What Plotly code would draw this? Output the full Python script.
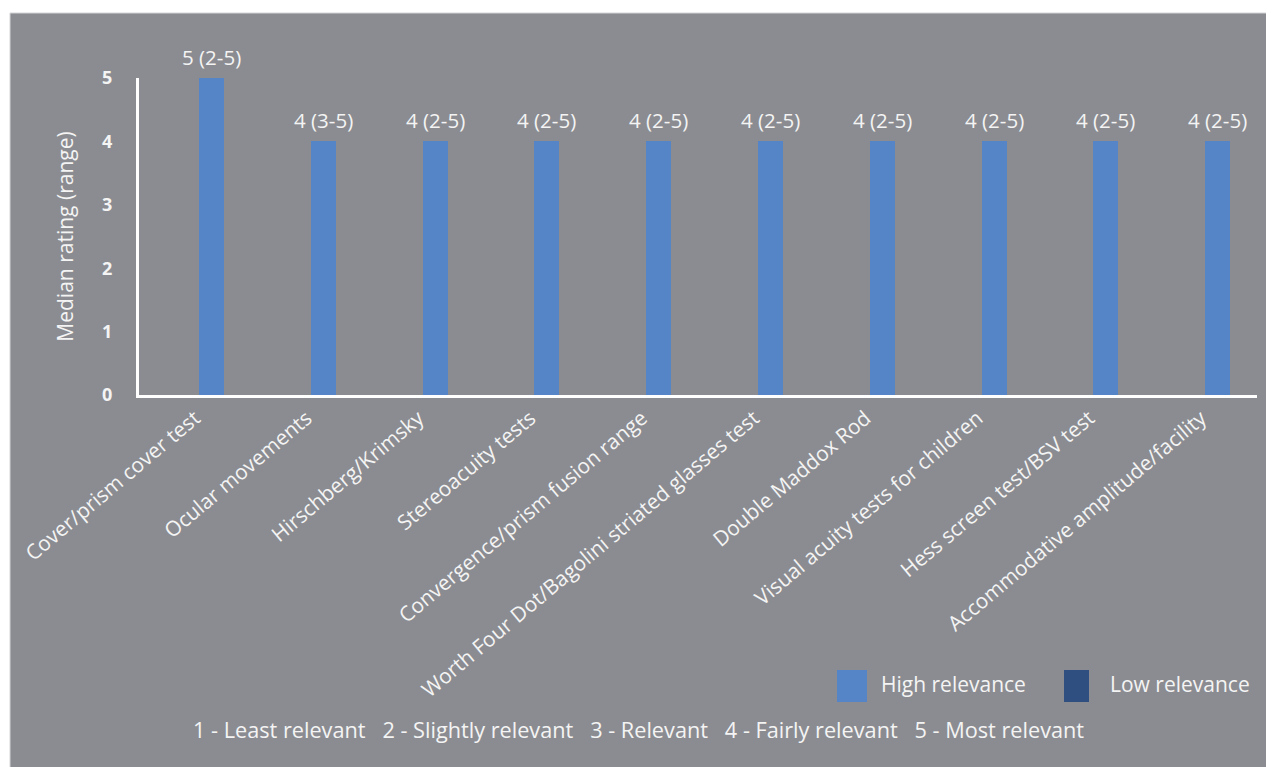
import plotly.graph_objects as go

categories = [
    "Cover/prism cover test",
    "Ocular movements",
    "Hirschberg/Krimsky",
    "Stereoacuity tests",
    "Convergence/prism fusion range",
    "Worth Four Dot/Bagolini striated glasses test",
    "Double Maddox Rod",
    "Visual acuity tests for children",
    "Hess screen test/BSV test",
    "Accommodative amplitude/facility",
]
median_rating = [5, 4, 4, 4, 4, 4, 4, 4, 4, 4]
range_labels = ["2-5", "3-5", "2-5", "2-5", "2-5", "2-5", "2-5", "2-5", "2-5", "2-5"]
y_ticks = [0, 1, 2, 3, 4, 5]
legend_names = ["High relevance", "Low relevance"]
scale_labels = ["1 - Least relevant", "2 - Slightly relevant", "3 - Relevant",
                "4 - Fairly relevant", "5 - Most relevant"]

HIGH = "#5585c6"
LOW = "#2f4f80"
BG = "#8b8c91"
TXT = "#f4f4f4"
FONT = "Open Sans"

OFF = 8  # page body margin
W, H = 1274 - OFF, 767 - OFF
PL, PR, PT, PB = 139, 1257, 78, 395  # plot area in page pixels
L, T = PL - OFF, PT - OFF
R, B = W - (PR - OFF), H - (PB - OFF)
pw, ph = W - L - R, H - T - B

def px_x(x):
    return (x - OFF - L) / pw

def px_y(y):
    return (H - B - (y - OFF)) / ph

fig = go.Figure()
fig.add_trace(go.Bar(
    x=categories, y=median_rating, name=legend_names[0],
    marker=dict(color=HIGH, line=dict(width=0)),
    offset=0.036, width=0.224, showlegend=False,
))

# background panel
fig.add_shape(type="rect", xref="paper", yref="paper",
              x0=px_x(10), x1=px_x(1290), y0=px_y(790), y1=px_y(13),
              fillcolor=BG, line=dict(color="#d4d4d6", width=1), layer="below")

# value labels
for c, m, r in zip(categories, median_rating, range_labels):
    fig.add_annotation(x=c, y=m, text=f"{m} ({r})", showarrow=False,
                       xshift=16.5, yshift=21, yanchor="middle",
                       font=dict(family=FONT, size=20.5, color=TXT))

# legend (drawn)
legend_items = [(legend_names[0], HIGH, 837, 867, 879), (legend_names[1], LOW, 1064, 1089, 1108)]
for name, col, x0, x1, tx in legend_items:
    fig.add_shape(type="rect", xref="paper", yref="paper",
                  x0=px_x(x0), x1=px_x(x1), y0=px_y(702), y1=px_y(670),
                  fillcolor=col, line=dict(width=0))
    fig.add_annotation(xref="paper", yref="paper", x=px_x(tx), y=px_y(684),
                       xanchor="left", yanchor="middle", text=name, showarrow=False,
                       font=dict(family=FONT, size=21, color=TXT))

footer = "\u00a0\u00a0\u00a0".join(scale_labels)
fig.add_annotation(xref="paper", yref="paper", x=px_x(638), y=px_y(729),
                   xanchor="center", yanchor="middle", text=footer, showarrow=False,
                   font=dict(family=FONT, size=21.7, color=TXT))

fig.update_layout(
    width=W, height=H,
    margin=dict(l=L, r=R, t=T, b=B, pad=0),
    paper_bgcolor="white", plot_bgcolor="rgba(0,0,0,0)",
    font=dict(family=FONT, color=TXT),
    bargap=0, showlegend=False,
    xaxis=dict(
        type="category", range=[-0.5, 9.5], tickangle=-40,
        tickfont=dict(family=FONT, size=20.8, color=TXT),
        showgrid=False, showline=True, linecolor="white", linewidth=3,
        ticks="", zeroline=False,
    ),
    yaxis=dict(
        range=[0, 5], tickvals=y_ticks, showgrid=False,
        showline=True, linecolor="white", linewidth=3, zeroline=False,
        tickfont=dict(family=FONT, size=18, color=TXT, weight="bold"),
        ticklabelstandoff=20,
        title=dict(text="Median rating (range)", standoff=23,
                   font=dict(family=FONT, size=21, color=TXT)),
    ),
)

fig.write_html("out.html")
